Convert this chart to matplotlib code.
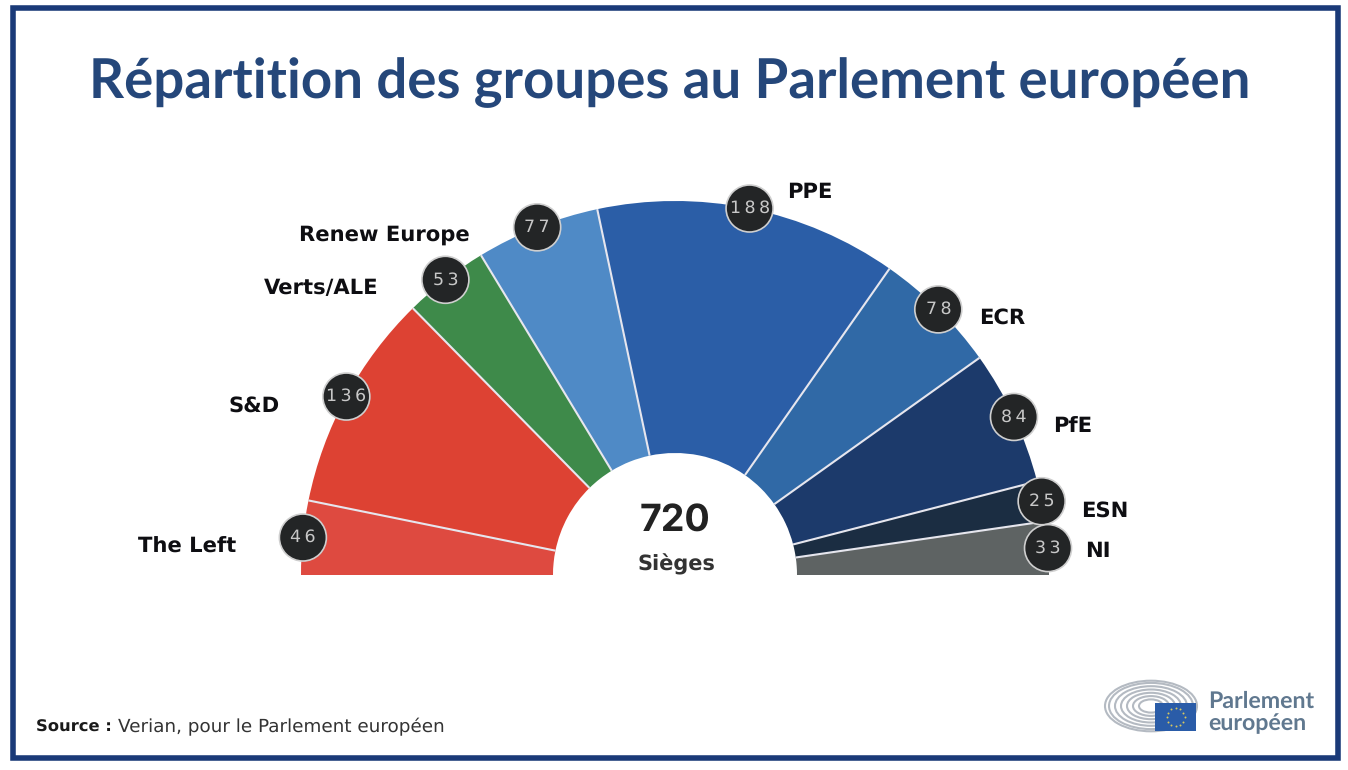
import numpy as np
import matplotlib
matplotlib.use("Agg")
import matplotlib.pyplot as plt
from matplotlib.patches import Wedge, Circle, Rectangle, Ellipse

plt.rcParams["text.hinting"] = "none"

groups = ["The Left", "S&D", "Verts/ALE", "Renew Europe", "PPE", "ECR", "PfE", "ESN", "NI"]
seats = [46, 136, 53, 77, 188, 78, 84, 25, 33]
colors = ["#DE4A40", "#DD4233", "#3E8A4A", "#4F8AC6", "#2B5EA7", "#3069A6", "#1C3A6B", "#1B2D42", "#5E6363"]
label_pos = [(187, 547), (254, 406), (321, 288), (384, 235), (810, 192), (1002, 318), (1073, 426), (1105, 511), (1098, 551)]
title = "Répartition des groupes au Parlement européen"
total_label = "720"
unit_label = "Sièges"
source_bold = "Source :"
source_text = "Verian, pour le Parlement européen"

W, H = 1348, 770
NAVY = "#1A3A78"
fig = plt.figure(figsize=(W / 100, H / 100), dpi=100)
ax = fig.add_axes([0, 0, 1, 1])
ax.set_xlim(0, W)
ax.set_ylim(H, 0)
ax.axis("off")

ax.add_patch(Rectangle((13, 8), 1325, 750, fill=False, ec=NAVY, lw=4))

ax.text(670, 83, title, ha="center", va="center", fontsize=39.3, fontweight="bold",
        color="#25477A", family="Lato")

cx, cy, R, r = 675, 575, 374, 122
total = sum(seats)
start = 180.0
mids = []
for i, (v, c) in enumerate(zip(seats, colors)):
    sweep = v / total * 180
    ax.add_patch(Wedge((cx, cy), R, start, start + sweep, width=R - r, fc=c, ec="none"))
    mids.append(start + sweep / 2)
    start += sweep
    if i < len(seats) - 1:
        a = np.radians(start)
        ax.plot([cx + r * np.cos(a), cx + R * np.cos(a)], [cy + r * np.sin(a), cy + R * np.sin(a)],
                color="#E6E6EE", lw=1.5, solid_capstyle="butt", zorder=2)

for g, v, m, (lx, ly) in zip(groups, seats, mids, label_pos):
    bx = cx + R * np.cos(np.radians(m))
    by = cy + R * np.sin(np.radians(m))
    ax.add_patch(Circle((bx, by), 23.5, fc="#232526", ec="#CFCFCF", lw=1.2, zorder=4))
    ax.text(bx, by, "\u2009".join(str(v)), ha="center", va="center", fontsize=12.5, color="#C8C8C8",
            family="DejaVu Sans", zorder=5)
    ax.text(lx, ly, g, ha="center", va="center", fontsize=15.2, fontweight="bold",
            color="#0E0E12", family="DejaVu Sans", zorder=5)

ax.text(675, 522, total_label, ha="center", va="center", fontsize=27, fontweight="bold",
        color="#222222", family="Inter")
ax.text(676, 564, unit_label, ha="center", va="center", fontsize=15, fontweight="bold",
        color="#333333", family="DejaVu Sans")

ax.text(36, 727, source_bold, ha="left", va="center", fontsize=11.8, fontweight="bold",
        color="#1A1A1A", family="DejaVu Sans")
ax.text(118, 727, source_text, ha="left", va="center", fontsize=13.2, color="#333333", family="DejaVu Sans")

# Logo
for semi in [12, 18, 24, 30, 36, 42, 46]:
    ax.add_patch(Ellipse((1151, 706), semi * 2, semi * 1.1, fill=False, ec="#B4BAC2", lw=1.5))
ax.add_patch(Rectangle((1155, 703), 41, 28, fc="#2A5CA8", ec="none", zorder=3))
ang = np.linspace(0, 2 * np.pi, 12, endpoint=False)
ax.scatter(1175.5 + 9 * np.cos(ang), 717 + 9 * np.sin(ang), s=2, c="#D8C860", zorder=4, linewidths=0)
ax.text(1208, 701, "Parlement", ha="left", va="center", fontsize=16.7, fontweight="bold",
        color="#60788F", family="Lato")
ax.text(1208, 724, "européen", ha="left", va="center", fontsize=16.7, fontweight="bold",
        color="#60788F", family="Lato")

fig.savefig("out.png", dpi=100, facecolor="white")
